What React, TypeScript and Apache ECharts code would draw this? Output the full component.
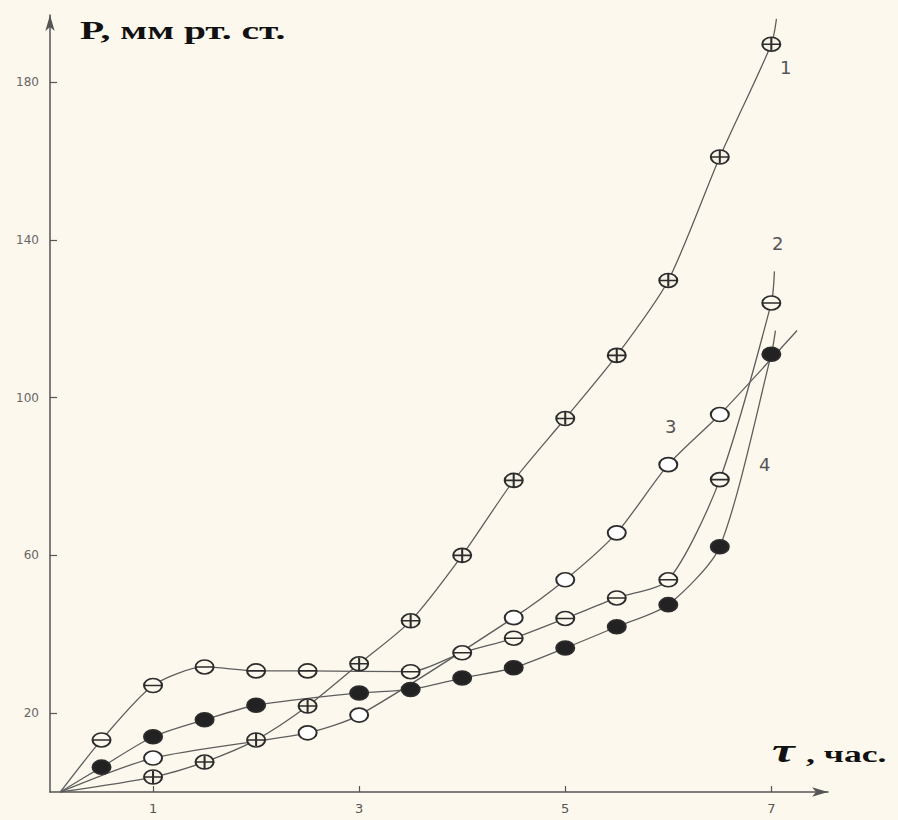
import React, { useEffect, useRef } from "react";
import * as echarts from "echarts";

// Axis ticks
const xTicks = [1, 3, 5, 7];
const yTicks = [20, 60, 100, 140, 180];

// Common start point of all curves
const origin = [0.1, 0];

// Curve 1 (⊕)
const s1X = [1, 1.5, 2, 2.5, 3, 3.5, 4, 4.5, 5, 5.5, 6, 6.5, 7];
const s1Y = [3.8, 7.6, 13.2, 21.8, 32.5, 43.4, 60, 79, 94.7, 110.7, 129.7, 161, 189.6];
const s1Tail = [7.05, 196];

// Curve 2 (⊖)
const s2X = [0.5, 1, 1.5, 2, 2.5, 3.5, 4, 4.5, 5, 5.5, 6, 6.5, 7];
const s2Y = [13.2, 27, 31.7, 30.7, 30.7, 30.5, 35.3, 39, 44, 49.2, 53.8, 79.2, 124];
const s2Tail = [7.03, 132];

// Curve 3 (○)
const s3X = [1, 2.5, 3, 4.5, 5, 5.5, 6, 6.5];
const s3Y = [8.6, 15, 19.5, 44.2, 53.8, 65.7, 83, 95.7];
const s3Tail = [7.25, 117];

// Curve 4 (●)
const s4X = [0.5, 1, 1.5, 2, 3, 3.5, 4, 4.5, 5, 5.5, 6, 6.5, 7];
const s4Y = [6.3, 14, 18.3, 22, 25.1, 26, 28.9, 31.5, 36.5, 41.9, 47.5, 62.2, 111];
const s4Tail = [7.04, 117];

const curveNames = ["1", "2", "3", "4"];

const ELLIPSE = "M0,8A10,8 0 1,1 20,8A10,8 0 1,1 0,8Z";
const SYM_PLUS = "path://" + ELLIPSE + " M1,8L19,8 M10,1L10,15";
const SYM_MINUS = "path://" + ELLIPSE + " M1,8L19,8";
const SYM_OPEN = "path://" + ELLIPSE;

function buildData(xs: number[], ys: number[], tail: number[]) {
  const pts: any[] = [{ value: origin, symbol: "none" }];
  xs.forEach((x, i) => pts.push([x, ys[i]]));
  pts.push({ value: tail, symbol: "none" });
  return pts;
}

export default function App() {
  const ref = useRef<HTMLDivElement>(null);

  useEffect(() => {
    if (!ref.current) return;
    const chart = echarts.init(ref.current, null, { renderer: "svg" });

    const lineStyle = { color: "#5e5e5e", width: 1.3 };
    const mkSeries = (
      name: string,
      data: any[],
      symbol: string,
      fill: string
    ) => ({
      name,
      type: "line",
      data,
      smooth: 0.25,
      symbol,
      symbolSize: [18, 14],
      showSymbol: true,
      lineStyle,
      itemStyle: { color: fill, borderColor: "#2c2c2c", borderWidth: 1.8 },
      emphasis: { disabled: true },
      z: 3,
    });

    const labelStyle = {
      fill: "#555",
      font: "18px 'DejaVu Sans'",
    };

    chart.setOption({
      animation: false,
      backgroundColor: "#fcf8ed",
      grid: { left: 50, right: 70, top: 15, bottom: 28, containLabel: false },
      xAxis: {
        type: "value",
        min: 0,
        max: 7.55,
        axisLine: {
          show: true,
          lineStyle: { color: "#555", width: 1.5 },
          symbol: ["none", "arrow"],
          symbolSize: [7, 16],
        },
        axisTick: {
          show: true,
          inside: true,
          length: 6,
          customValues: xTicks,
          lineStyle: { color: "#555", width: 1.2 },
        },
        axisLabel: {
          customValues: xTicks,
          color: "#555",
          fontSize: 13,
          margin: 10,
          fontFamily: "DejaVu Sans",
        },
        splitLine: { show: false },
      },
      yAxis: {
        type: "value",
        min: 0,
        max: 197,
        axisLine: {
          show: true,
          lineStyle: { color: "#555", width: 1.5 },
          symbol: ["none", "arrow"],
          symbolSize: [7, 16],
        },
        axisTick: {
          show: true,
          inside: true,
          length: 7,
          customValues: yTicks,
          lineStyle: { color: "#555", width: 1.2 },
        },
        axisLabel: {
          customValues: yTicks,
          color: "#666",
          fontSize: 12,
          margin: 11,
          fontFamily: "DejaVu Sans",
        },
        splitLine: { show: false },
      },
      series: [
        mkSeries(curveNames[0], buildData(s1X, s1Y, s1Tail), SYM_PLUS, "#f6f2e6"),
        mkSeries(curveNames[1], buildData(s2X, s2Y, s2Tail), SYM_MINUS, "#fcf8ed"),
        mkSeries(curveNames[2], buildData(s3X, s3Y, s3Tail), SYM_OPEN, "#ffffff"),
        mkSeries(curveNames[3], buildData(s4X, s4Y, s4Tail), SYM_OPEN, "#222222"),
      ],
      graphic: [
        {
          type: "text",
          x: 80,
          y: 18,
          scaleX: 1.58,
          style: {
            text: "P, мм рт. ст.",
            font: "bold 25px 'Liberation Serif'",
            fill: "#111",
            textVerticalAlign: "top",
          },
        },
        {
          type: "text",
          x: 772,
          y: 733,
          scaleX: 1.5,
          style: {
            text: "τ",
            font: "italic bold 34px 'Liberation Serif'",
            fill: "#111",
            textVerticalAlign: "top",
          },
        },
        {
          type: "text",
          x: 806,
          y: 742,
          scaleX: 1.55,
          style: {
            text: ", час.",
            font: "bold 23px 'Liberation Serif'",
            fill: "#111",
            textVerticalAlign: "top",
          },
        },
        { type: "text", left: 780, top: 58, style: { ...labelStyle, text: curveNames[0] } },
        { type: "text", left: 772, top: 234, style: { ...labelStyle, text: curveNames[1] } },
        { type: "text", left: 665, top: 417, style: { ...labelStyle, text: curveNames[2] } },
        { type: "text", left: 759, top: 455, style: { ...labelStyle, text: curveNames[3] } },
      ],
    });

    return () => chart.dispose();
  }, []);

  return (
    <div
      ref={ref}
      style={{ position: "absolute", left: 0, top: 0, width: 898, height: 820 }}
    />
  );
}
